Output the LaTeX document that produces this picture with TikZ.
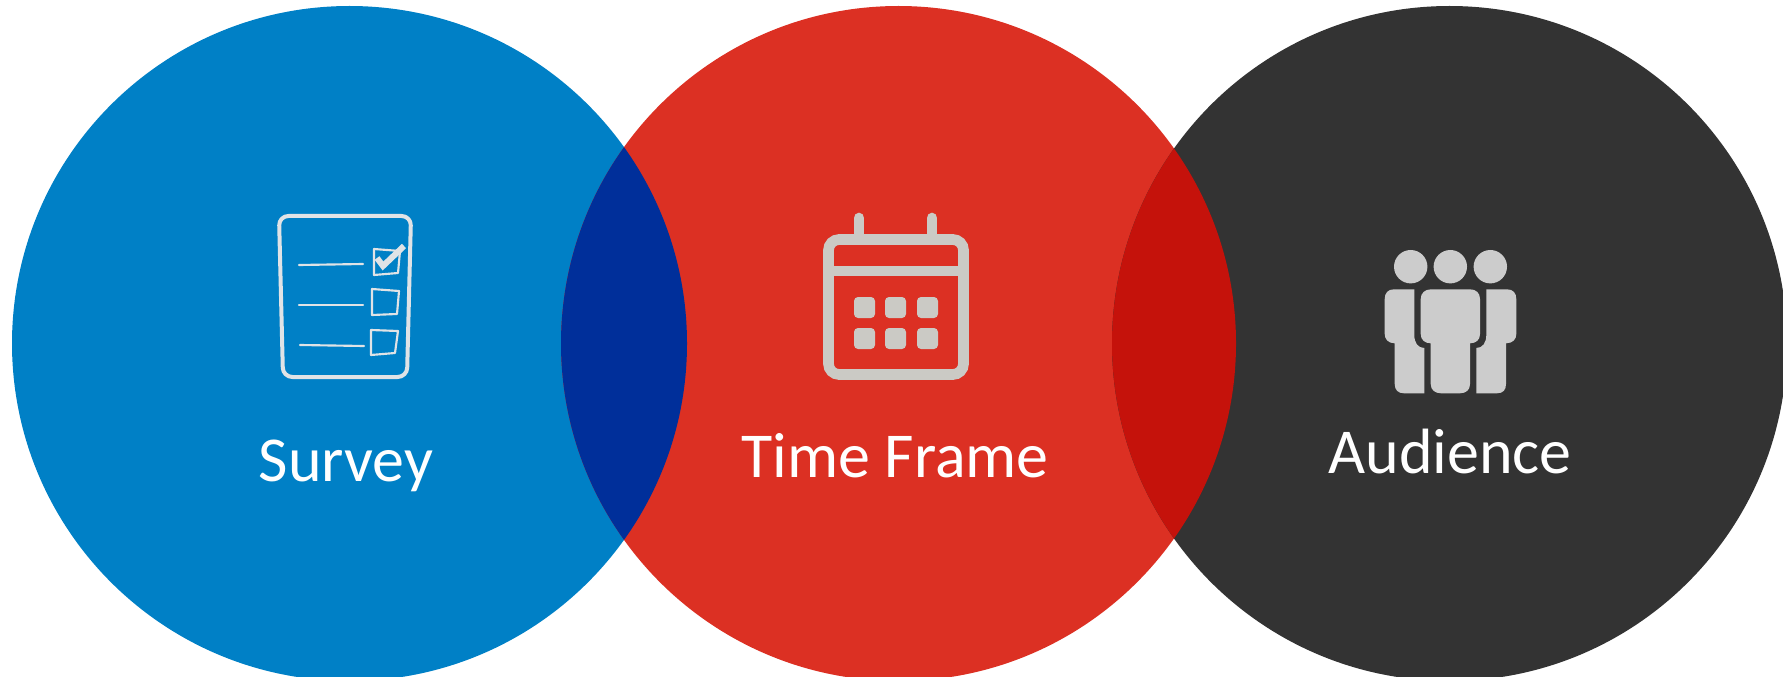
\documentclass[tikz,border=0pt]{standalone}
\usepackage{fontspec}
\setmainfont{Carlito}
\definecolor{surveyblue}{HTML}{0080C6}
\definecolor{overlapblue}{HTML}{002F9A}
\definecolor{framered}{HTML}{DC3023}
\definecolor{overlapred}{HTML}{C5120B}
\definecolor{audiencegray}{HTML}{333333}
\definecolor{iconwhite}{HTML}{E0E3E6}
\definecolor{icongray}{HTML}{CBCAC5}
\definecolor{peoplegray}{HTML}{CCCCCC}
\tikzset{every picture/.style={line width=0.75pt}}
\tikzset{
  label text/.style={anchor=base,inner sep=0.75pt,text=white,font=\fontsize{48}{56}\selectfont},
  sheet line/.style={draw=iconwhite,line width=1.6pt,line join=round,line cap=round},
  calendar line/.style={draw=icongray,line width=8pt},
  calendar cell/.style={fill=icongray,rounded corners=3pt},
  people shape/.style={fill=peoplegray}
}

\begin{document}
\begin{tikzpicture}[x=0.75pt,y=0.75pt,yscale=-1,xscale=1]
    \useasboundingbox (0,0) rectangle (1783,677);

    %Shape: Circles
    \fill [surveyblue] (349.5,343.5) circle [radius=337.5];
    \fill [framered] (898.5,343.5) circle [radius=337.5];
    \fill [audiencegray] (1449.5,343.5) circle [radius=337.5];

    %Shape: Overlaps
    \begin{scope}
      \clip (349.5,343.5) circle [radius=337.5];
      \fill [overlapblue] (898.5,343.5) circle [radius=337.5];
    \end{scope}
    \begin{scope}
      \clip (898.5,343.5) circle [radius=337.5];
      \fill [overlapred] (1449.5,343.5) circle [radius=337.5];
    \end{scope}

    %Shape: Checklist
    \draw [sheet line,line width=3pt,rounded corners=7pt] (279,216) -- (411,216) -- (407,377) -- (283,377) -- cycle ;
    \draw [sheet line] (299,265) -- (363,264) ;
    \draw [sheet line] (299,305) -- (363,305) ;
    \draw [sheet line] (300,345) -- (364,346) ;
    \draw [sheet line] (374,249) -- (400,251) -- (398,273) -- (374,275) -- cycle ;
    \draw [sheet line] (372,289) -- (399,291) -- (397,314) -- (372,315) -- cycle ;
    \draw [sheet line] (371,330) -- (398,331) -- (395,353) -- (371,355) -- cycle ;
    \draw [draw=iconwhite,line width=4.5pt] (377,258) -- (383,266) -- (404,246) ;

    %Shape: Calendar
    \draw [calendar line,rounded corners=8pt] (828.5,239.5) -- (963.5,239.5) -- (963.5,374.5) -- (828.5,374.5) -- cycle ;
    \draw [calendar line] (828.5,271) -- (963.5,271) ;
    \draw [calendar line,line cap=round] (859,218) -- (859,239) ;
    \draw [calendar line,line cap=round] (932,218) -- (932,239) ;
    \foreach \cellx in {854,885,917}
      \foreach \celly in {297,328}
        \fill [calendar cell] (\cellx,\celly) rectangle (\cellx+21,\celly+21) ;

    %Shape: People
    \foreach \headx in {1410.7,1450.3,1490.3}
      \fill [peoplegray] (\headx,266.7) circle [radius=16.7] ;
    \fill [people shape] (1431,289.3) -- (1470,289.3) .. controls (1476,289.3) and (1480,293) .. (1480,299) -- (1480,334) .. controls (1480,340) and (1476,343.3) .. (1470,343.3) -- (1470,384) .. controls (1470,390) and (1466,393.3) .. (1460,393.3) -- (1441,393.3) .. controls (1435,393.3) and (1430.7,390) .. (1430.7,384) -- (1430.7,343.3) .. controls (1425,343.3) and (1420.7,340) .. (1420.7,334) -- (1420.7,299) .. controls (1420.7,293) and (1425,289.3) .. (1431,289.3) -- cycle ;
    \fill [people shape] (1414.3,289.3) -- (1414.3,335) .. controls (1414.3,343) and (1418,348) .. (1424.3,348) -- (1424.3,393.3) -- (1404,393.3) .. controls (1398,393.3) and (1394.7,390) .. (1394.7,384) -- (1394.7,343.3) .. controls (1388,343.3) and (1384.7,339) .. (1384.7,334) -- (1384.7,299) .. controls (1384.7,293) and (1388,289.3) .. (1394,289.3) -- cycle ;
    \fill [people shape] (1486.3,289.3) -- (1486.3,335) .. controls (1486.3,343) and (1482.5,348) .. (1476.3,348) -- (1476.3,393.3) -- (1497,393.3) .. controls (1503,393.3) and (1506,390) .. (1506,384) -- (1506,343.3) .. controls (1513,343.3) and (1516.3,339) .. (1516.3,334) -- (1516.3,299) .. controls (1516.3,293) and (1513,289.3) .. (1507,289.3) -- cycle ;

    % Text Node
    \draw (346,481) node [label text] (survey) {Survey};
    % Text Node
    \draw (895,477) node [label text] (timeframe) {Time Frame};
    % Text Node
    \draw (1450,473) node [label text] (audience) {Audience};

\end{tikzpicture}
\end{document}
